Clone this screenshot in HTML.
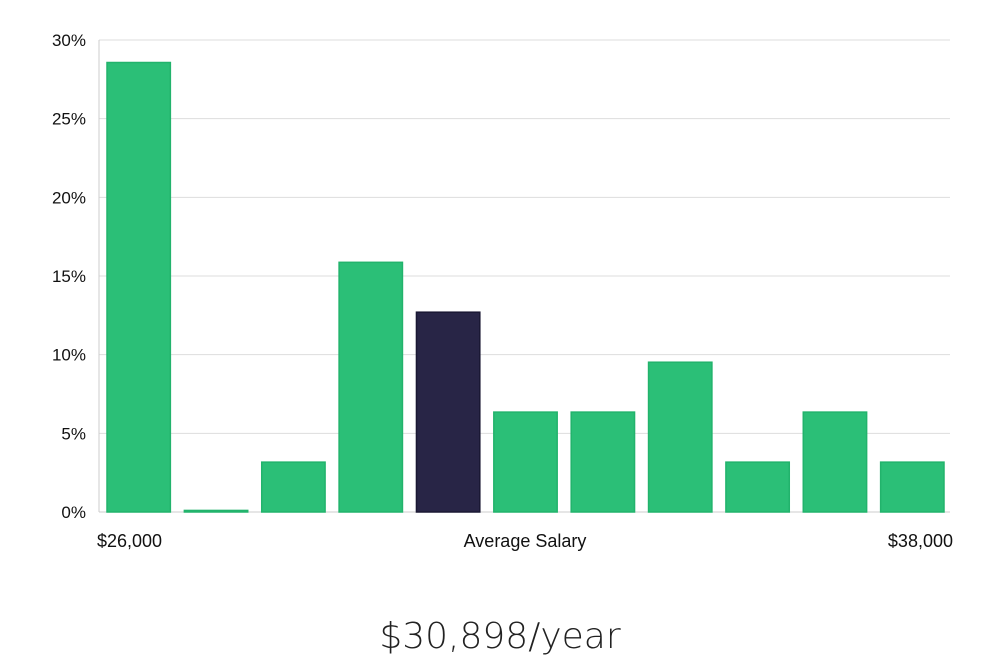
<!DOCTYPE html>
<html><head><meta charset="utf-8"><style>
body{margin:0;background:#fff;width:1000px;height:660px;overflow:hidden;font-family:"Liberation Sans","DejaVu Sans",sans-serif}
</style></head><body>
<svg width="1000" height="660" xmlns="http://www.w3.org/2000/svg">
<g id="grid"></g><g id="bars"></g><g id="labels"></g>
<text x="500" y="648" text-anchor="middle" font-size="36" fill="#222" font-family="DejaVu Sans, sans-serif" font-weight="300">$30,898/year</text>
</svg>
<script>
const categories=["b1","b2","b3","b4","b5","b6","b7","b8","b9","b10","b11"];
const values=[28.57,0.1,3.17,15.87,12.7,6.35,6.35,9.52,3.17,6.35,3.17];
const highlight=[false,false,false,false,true,false,false,false,false,false,false];
const yTicks=[0,5,10,15,20,25,30];
const xLabels=["$26,000","Average Salary","$38,000"];
const NS="http://www.w3.org/2000/svg";
const x0=99,x1=950,y0=512,yTop=40,ymax=30;
const y=v=>y0-(v/ymax)*(y0-yTop);
const step=(x1-x0)/categories.length;
function mk(t,a,p){const e=document.createElementNS(NS,t);for(const k in a)e.setAttribute(k,a[k]);p.appendChild(e);return e;}
const g=document.getElementById('grid');
yTicks.forEach(t=>{
 const l=mk('line',{x1:x0,x2:x1,y1:y(t),y2:y(t),stroke:t===0?'#ccc':'#ddd','stroke-width':1},g);
 
 
 const tx=mk('text',{x:86,y:y(t)+6,'text-anchor':'end','font-size':17,fill:'#111'},g);
 tx.textContent=t+'%';
 
 
});
const ax=mk('line',{x1:x0,x2:x0,y1:yTop,y2:y0,stroke:'#ccc'},g);


const b=document.getElementById('bars');
values.forEach((v,i)=>{
 const bx=x0+i*step+8,w=step-14;
 const r=mk('rect',{x:bx,y:y(v),width:w,height:y0-y(v),fill:highlight[i]?'#282546':'#2bbf77',stroke:highlight[i]?'#1a1833':'#22b36c','stroke-width':1.5},b);
 
 
});
const lg=document.getElementById('labels');
[[97,'start'],[525,'middle'],[953,'end']].forEach((p,i)=>{
 const tx=mk('text',{x:p[0],y:547,'text-anchor':p[1],'font-size':18,fill:'#111'},lg);
 tx.textContent=xLabels[i];
 
 
});
</script>
</body></html>
